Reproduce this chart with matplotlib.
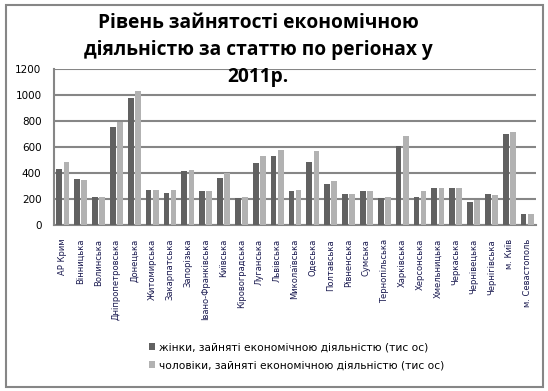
import matplotlib.pyplot as plt
import numpy as np
from matplotlib.patches import Rectangle

# регіони України
regions = ['АР Крим', 'Вінницька', 'Волинська', 'Дніпропетровська', 'Донецька',
           'Житомирська', 'Закарпатська', 'Запорізька', 'Івано-Франківська',
           'Київська', 'Кіровоградська', 'Луганська', 'Львівська', 'Миколаївська',
           'Одеська', 'Полтавська', 'Рівненська', 'Сумська', 'Тернопільська',
           'Харківська', 'Херсонська', 'Хмельницька', 'Черкаська', 'Чернівецька',
           'Чернігівська', 'м. Київ', 'м. Севастополь']

# тис. осіб
women = [427, 353, 219, 755, 979, 273, 245, 412, 258, 358, 211, 476, 530, 258,
         484, 319, 242, 258, 211, 605, 219, 281, 281, 180, 242, 698, 88]
men = [484, 345, 219, 796, 1033, 273, 273, 420, 265, 399, 219, 530, 574, 273,
       567, 335, 242, 258, 219, 685, 258, 288, 281, 196, 227, 713, 88]

women_label = 'жінки, зайняті економічною діяльністю (тис ос)'
men_label = 'чоловіки, зайняті економічною діяльністю (тис ос)'
title = 'Рівень зайнятості економічною\nдіяльністю за статтю по регіонах у\n2011р.'

W, H = 548, 391
fig = plt.figure(figsize=(W / 100, H / 100), dpi=100)
fig.patch.set_facecolor('white')

# рамка навколо діаграми
fig.patches.append(Rectangle((6 / W, 4 / H), 537 / W, 382 / H, transform=fig.transFigure,
                             fill=False, edgecolor='#868686', linewidth=1.5))

ax = fig.add_axes([54 / W, 1 - 225 / H, 482 / W, 156 / H])
x = np.arange(len(regions))
bw = 0.32
b1 = ax.bar(x - 0.2, women, bw, color='#616161', zorder=3)
b2 = ax.bar(x + 0.2, men, bw, color='#b2b2b2', zorder=3)

ax.set_xlim(-0.5, len(regions) - 0.5)
ax.set_ylim(0, 1200)
ax.set_yticks(range(0, 1201, 200))
ax.yaxis.grid(True, color='#868686', linewidth=1.5, zorder=0)
ax.set_axisbelow(True)
for s in ['top', 'right']:
    ax.spines[s].set_visible(False)
for s in ['left', 'bottom']:
    ax.spines[s].set_color('#868686')
    ax.spines[s].set_linewidth(1.5)
ax.tick_params(axis='y', length=0, pad=9, labelsize=7.5)
ax.tick_params(axis='x', length=0, pad=10)
ax.set_xticks(x)
ax.set_xticklabels(regions, rotation=90, fontsize=6, color='#1a1a50', va='top')

fig.text(258 / W, 1 - 50 / H, title, ha='center', va='center', fontsize=13.8,
         fontweight='bold', family='Open Sans', linespacing=1.45)

fig.legend([b1, b2], [women_label, men_label], loc='upper left',
           bbox_to_anchor=(149 / W, 1 - 342 / H), frameon=False, fontsize=7.7,
           handlelength=0.6, handleheight=0.6, handletextpad=0.35, labelspacing=0.75,
           borderaxespad=0, borderpad=0)

fig.savefig('out.png', dpi=100)
